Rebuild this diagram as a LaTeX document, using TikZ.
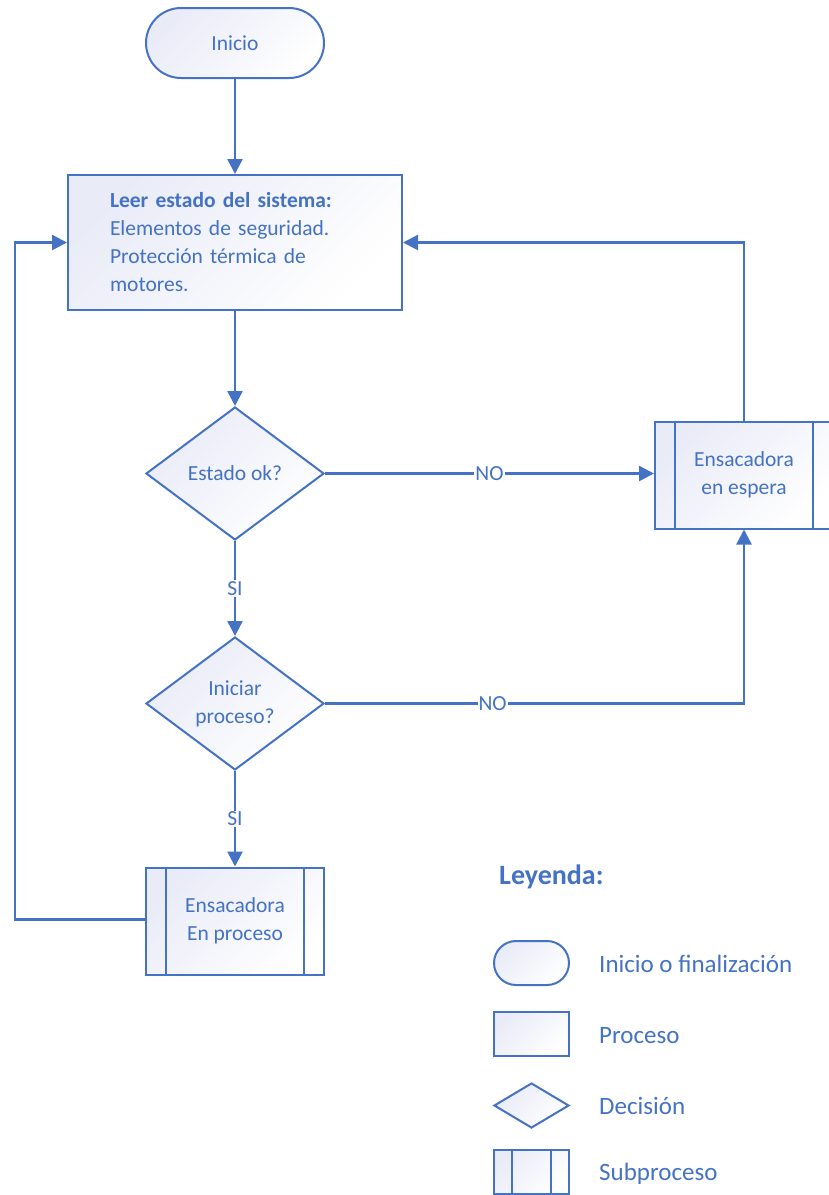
\documentclass[tikz,border=0pt]{standalone}
\usepackage{fontspec}
\setmainfont{Carlito}
\usetikzlibrary{shapes.geometric,arrows.meta}
\definecolor{fcblue}{RGB}{68,114,196}
\definecolor{fclav}{RGB}{233,235,247}
\begin{document}
\begin{tikzpicture}[x=1pt,y=-1pt,
  every node/.style={text=fcblue, font=\fontsize{21.5}{28}\selectfont},
  shapefill/.style={draw=fcblue, line width=2pt, top color=fclav, bottom color=white, shading angle=45},
  terminal/.style={shapefill, rectangle, rounded corners=35pt, minimum width=178pt, minimum height=70pt, inner sep=0pt},
  procbox/.style={shapefill, rectangle, minimum width=334pt, minimum height=135pt, text width=250pt, inner xsep=42pt, align=left},
  decision/.style={shapefill, diamond, minimum width=178pt, minimum height=133pt, inner sep=0pt, align=center},
  subproc/.style={shapefill, rectangle, minimum width=178pt, minimum height=107pt, inner sep=0pt, align=center},
  conn/.style={draw=fcblue, line width=2.4pt, -{Triangle[length=15pt,width=15pt]}},
  edgelabel/.style={fill=white, inner sep=1pt},
  inner/.style={draw=fcblue, line width=2pt},
  legtext/.style={anchor=base west, inner sep=0pt, font=\fontsize{25}{30}\selectfont},
]
\useasboundingbox (0,0) rectangle (829,1195);
\clip (0,0) rectangle (829,1195);

% main nodes
\node[terminal] (inicio) at (235,43) {Inicio};
\node[procbox] (proc) at (235,242.5) {\textbf{Leer estado del sistema:}\\Elementos de seguridad.\\Protección térmica de\\motores.};
\node[decision] (d1) at (235,473.5) {Estado ok?};
\node[decision] (d2) at (235,703.5) {Iniciar\\proceso?};
\node[subproc] (s1) at (744,475) {Ensacadora\\en espera};
\node[subproc] (s2) at (235,921) {Ensacadora\\En proceso};
\draw[inner] ([xshift=21pt]s1.north west) -- ([xshift=21pt]s1.south west);
\draw[inner] ([xshift=-21pt]s1.north east) -- ([xshift=-21pt]s1.south east);
\draw[inner] ([xshift=21pt]s2.north west) -- ([xshift=21pt]s2.south west);
\draw[inner] ([xshift=-21pt]s2.north east) -- ([xshift=-21pt]s2.south east);

\coordinate (lft) at (15,919.5);

% connectors
\draw[conn] (inicio) -- (proc);
\draw[conn] (proc) -- (d1);
\draw[conn] (d1.east) -- node[edgelabel]{NO} (d1.east -| s1.west);
\draw[conn] (s1.north) |- (proc.east);
\draw[conn] (d1.south) -- node[edgelabel]{SI} (d2.north);
\draw[conn] (d2.east) -| node[edgelabel, pos=0.2]{NO} (s1.south);
\draw[conn] (d2.south) -- node[edgelabel]{SI} (s2.north);
\draw[conn] (lft -| s2.west) -- (lft) |- (proc.west);

% legend
\node[anchor=base west, inner sep=0pt, font=\fontsize{28}{32}\selectfont\bfseries] (leyenda) at (499,884) {Leyenda:};
\node[shapefill, rectangle, rounded corners=22pt, minimum width=75pt, minimum height=44pt, inner sep=0pt] (lt) at (531.5,963) {};
\node[shapefill, rectangle, minimum width=75pt, minimum height=44pt, inner sep=0pt] (lp) at (531.5,1034) {};
\node[shapefill, diamond, minimum width=75pt, minimum height=45pt, inner sep=0pt] (ld) at (531.5,1105.5) {};
\node[shapefill, rectangle, minimum width=75pt, minimum height=44pt, inner sep=0pt] (ls) at (531.5,1172) {};
\draw[inner] ([xshift=19pt]ls.north west) -- ([xshift=19pt]ls.south west);
\draw[inner] ([xshift=-19pt]ls.north east) -- ([xshift=-19pt]ls.south east);
\node[legtext] (lt-t) at (599,972) {Inicio o finalización};
\node[legtext] (lp-t) at (599,1043) {Proceso};
\node[legtext] (ld-t) at (599,1114) {Decisión};
\node[legtext] (ls-t) at (599,1180) {Subproceso};
\end{tikzpicture}
\end{document}
